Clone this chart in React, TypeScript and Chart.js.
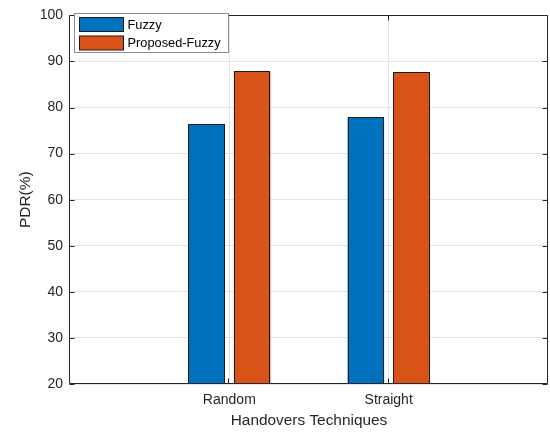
import React, { useEffect, useRef } from "react";
import { Chart, registerables } from "chart.js";

Chart.register(...registerables);

const categories = ["Random", "Straight"];
const fuzzyValues = [76.4, 77.9];
const proposedValues = [87.9, 87.7];
const seriesLabels = ["Fuzzy", "Proposed-Fuzzy"];
const seriesColors = ["#0072BD", "#D95319"];

const FONT = "'Liberation Sans', Arial, Helvetica, sans-serif";
const AX = "#262626";

const boxPlugin = {
  id: "matlabBox",
  afterDatasetsDraw(chart: any) {
    const { ctx, chartArea } = chart;
    ctx.save();
    // crisp bar outlines
    ctx.strokeStyle = "#1a1a1a";
    ctx.lineWidth = 1;
    chart.data.datasets.forEach((_: any, di: number) => {
      const meta = chart.getDatasetMeta(di);
      meta.data.forEach((bar: any) => {
        const p = bar.getProps(["x", "y", "base", "width"], true);
        const x0 = Math.round(p.x - p.width / 2) + 0.5;
        const x1 = Math.round(p.x + p.width / 2) - 0.5;
        const y0 = Math.round(p.y) + 0.5;
        const y1 = Math.round(Math.min(p.base, chartArea.bottom)) - 0.5;
        ctx.strokeRect(x0, y0, x1 - x0, y1 - y0);
      });
    });
    const l = Math.round(chartArea.left) - 0.5;
    const r = Math.round(chartArea.right) - 0.5;
    const t = Math.round(chartArea.top) + 0.5;
    const b = Math.round(chartArea.bottom) - 0.5;
    ctx.strokeStyle = AX;
    ctx.beginPath();
    ctx.rect(l, t, r - l, b - t);
    ctx.stroke();
    const ys = chart.scales.y;
    const xs = chart.scales.x;
    const tl = 5;
    ctx.beginPath();
    ys.ticks.forEach((tk: any) => {
      const py = Math.round(ys.getPixelForValue(tk.value)) + 0.5;
      ctx.moveTo(l, py);
      ctx.lineTo(l + tl, py);
      ctx.moveTo(r, py);
      ctx.lineTo(r - tl, py);
    });
    xs.ticks.forEach((tk: any) => {
      const px = Math.round(xs.getPixelForValue(tk.value)) - 0.5;
      ctx.moveTo(px, b);
      ctx.lineTo(px, b - tl);
      ctx.moveTo(px, t);
      ctx.lineTo(px, t + tl);
    });
    ctx.stroke();
    ctx.restore();
  },
  afterDraw(chart: any) {
    const { ctx } = chart;
    const bx = 74.5, by = 13.5, bw = 154, bh = 39;
    ctx.save();
    ctx.fillStyle = "#ffffff";
    ctx.fillRect(bx, by, bw, bh);
    ctx.strokeStyle = "#8c8c8c";
    ctx.lineWidth = 1;
    ctx.strokeRect(bx, by, bw, bh);
    ctx.font = `12.8px ${FONT}`;
    ctx.textBaseline = "middle";
    ctx.textAlign = "left";
    chart.data.datasets.forEach((ds: any, i: number) => {
      const py = 17.5 + i * 18.5;
      ctx.fillStyle = ds.backgroundColor;
      ctx.fillRect(79.5, py, 44, 14);
      ctx.strokeStyle = "#1a1a1a";
      ctx.strokeRect(79.5, py, 44, 14);
      ctx.fillStyle = "#000000";
      ctx.fillText(ds.label, 127.5, py + 7.5);
    });
    ctx.restore();
  },
};

export default function App() {
  const ref = useRef<HTMLCanvasElement>(null);
  useEffect(() => {
    document.body.style.margin = "0";
    const canvas = ref.current!;
    const mk = (i: number, vals: number[]) => ({
      label: seriesLabels[i],
      data: categories.map((_, k) => ({ x: k + 1, y: vals[k] })),
      backgroundColor: seriesColors[i],
      borderWidth: 0,
      categoryPercentage: 0.573,
      barPercentage: 0.8,
    });
    const chart = new Chart(canvas, {
      type: "bar",
      data: {
        datasets: [mk(0, fuzzyValues), mk(1, proposedValues)],
      },
      options: {
        responsive: false,
        animation: false,
        layout: { padding: { left: 0, top: 10, right: 2, bottom: 0 } },
        plugins: { legend: { display: false }, tooltip: { enabled: false } },
        scales: {
          x: {
            type: "linear",
            min: 0,
            max: categories.length + 1,
            offset: false,
            afterBuildTicks: (s: any) => {
              s.ticks = categories.map((_, i) => ({ value: i + 1 }));
            },
            afterFit: (s: any) => {
              s.height = 48;
            },
            grid: { color: "#e3e3e3", drawTicks: false, offset: false },
            border: { display: false },
            ticks: {
              padding: 8,
              color: AX,
              font: { family: FONT, size: 14 },
              callback: (v: any) => categories[Number(v) - 1] ?? "",
            },
            title: {
              display: true,
              text: "Handovers Techniques",
              color: AX,
              font: { family: FONT, size: 15.4 },
              padding: { top: 0, bottom: 2 },
            },
          },
          y: {
            min: 20,
            max: 100,
            afterFit: (s: any) => {
              s.width = 70;
            },
            grid: { color: "#e3e3e3", drawTicks: false },
            border: { display: false },
            ticks: {
              stepSize: 10,
              padding: 7,
              color: AX,
              font: { family: FONT, size: 14 },
            },
            title: {
              display: true,
              text: "PDR(%)",
              color: AX,
              font: { family: FONT, size: 15.4 },
              padding: { top: 16.5, bottom: 0 },
            },
          },
        },
      },
      plugins: [boxPlugin],
    } as any);
    return () => chart.destroy();
  }, []);
  return (
    <div style={{ width: 550, height: 432, background: "#fff" }}>
      <canvas ref={ref} width={550} height={432} style={{ display: "block" }} />
    </div>
  );
}
